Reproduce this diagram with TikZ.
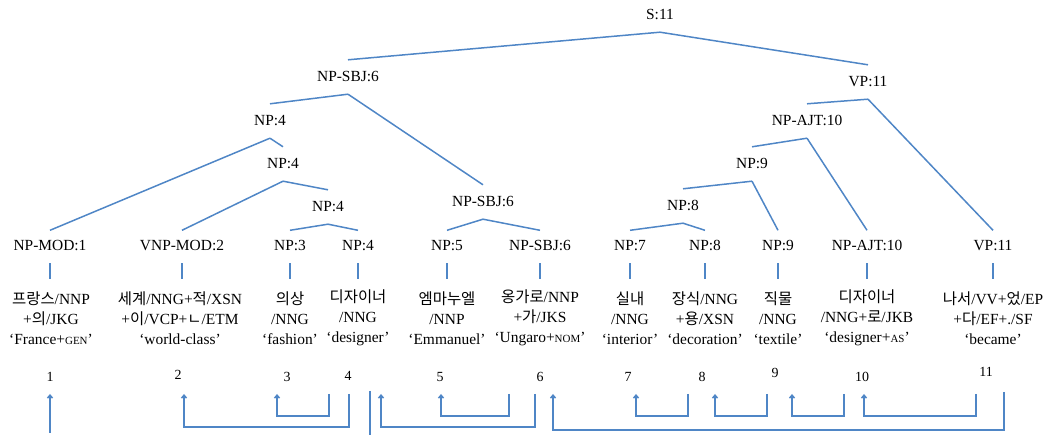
\documentclass[tikz,border=0pt]{standalone}
\usepackage{fontspec}
\setmainfont{Liberation Serif}
\newfontfamily\krfont{Noto Sans CJK KR}
\newcommand\kr[1]{{\krfont #1}}
\newcommand\fsc[1]{{\fontsize{11}{11}\selectfont #1}}
\usetikzlibrary{calc,arrows.meta}
\definecolor{lnblue}{RGB}{79,134,198}
\begin{document}
\begin{tikzpicture}[x=1bp,y=-1bp,
  lbl/.style={font=\fontsize{15.5}{18}\selectfont, inner sep=0pt, text height=11bp, text depth=3bp},
  leaftext/.style={font=\fontsize{15.5}{20}\selectfont, inner sep=0pt, align=center},
  num/.style={font=\fontsize{14}{16}\selectfont, inner sep=0pt},
  edge/.style={draw=lnblue, line width=1.5bp},
  dep/.style={draw=lnblue, line width=1.5bp},
  deparr/.style={dep, -{Straight Barb[length=3bp,width=5bp]}},
]
\useasboundingbox (0,0) rectangle (1051,435);

% tree labels
\node[lbl] (s)      at (660,16)  {S:11};
\node[lbl] (npsbj)  at (348,78)  {NP-SBJ:6};
\node[lbl] (vp)     at (868,83)  {VP:11};
\node[lbl] (np4a)   at (270,122) {NP:4};
\node[lbl] (ajt)    at (807,122) {NP-AJT:10};
\node[lbl] (np4b)   at (283,165) {NP:4};
\node[lbl] (np9)    at (752,165) {NP:9};
\node[lbl] (np4c)   at (328,208) {NP:4};
\node[lbl] (npsbjb) at (483,203) {NP-SBJ:6};
\node[lbl] (np8)    at (683,207) {NP:8};

% leaves
\node[lbl] (l1)  at (50,247)  {NP-MOD:1};
\node[lbl] (l2)  at (182,247) {VNP-MOD:2};
\node[lbl] (l3)  at (290,247) {NP:3};
\node[lbl] (l4)  at (358,247) {NP:4};
\node[lbl] (l5)  at (447,247) {NP:5};
\node[lbl] (l6)  at (540,247) {NP-SBJ:6};
\node[lbl] (l7)  at (630,247) {NP:7};
\node[lbl] (l8)  at (705,247) {NP:8};
\node[lbl] (l9)  at (778,247) {NP:9};
\node[lbl] (l10) at (867,247) {NP-AJT:10};
\node[lbl] (l11) at (993,247) {VP:11};

% leaf texts
\node[leaftext] (t1)  at (51,318)  {\kr{프랑스}/NNP\\+\kr{의}/JKG\\‘France+\fsc{GEN}’};
\node[leaftext] (t2)  at (180,318) {\kr{세계}/NNG+\kr{적}/XSN\\+\kr{이}/VCP+\kr{ㄴ}/ETM\\‘world-class’};
\node[leaftext] (t3)  at (290,318) {\kr{의상}\\/NNG\\‘fashion’};
\node[leaftext] (t4)  at (358,318) {\kr{디자이너}\\/NNG\\‘designer’};
\node[leaftext] (t5)  at (447,318) {\kr{엠마누엘}\\/NNP\\‘Emmanuel’};
\node[leaftext] (t6)  at (540,318) {\kr{옹가로}/NNP\\+\kr{가}/JKS\\‘Ungaro+\fsc{NOM}’};
\node[leaftext] (t7)  at (630,318) {\kr{실내}\\/NNG\\‘interior’};
\node[leaftext] (t8)  at (705,318) {\kr{장식}/NNG\\+\kr{용}/XSN\\‘decoration’};
\node[leaftext] (t9)  at (778,318) {\kr{직물}\\/NNG\\‘textile’};
\node[leaftext] (t10) at (867,318) {\kr{디자이너}\\/NNG+\kr{로}/JKB\\‘designer+\fsc{AS}’};
\node[leaftext] (t11) at (993,318) {\kr{나서}/VV+\kr{었}/EP\\+\kr{다}/EF+./SF\\‘became’};

% numbers
\node[num] (n1)  at (50,377)  {1};
\node[num] (n2)  at (178,375) {2};
\node[num] (n3)  at (287,377) {3};
\node[num] (n4)  at (348,376) {4};
\node[num] (n5)  at (440,377) {5};
\node[num] (n6)  at (540,377) {6};
\node[num] (n7)  at (628,377) {7};
\node[num] (n8)  at (702,377) {8};
\node[num] (n9)  at (775,373) {9};
\node[num] (n10) at (862,377) {10};
\node[num] (n11) at (986,372) {11};

% tree edges
\foreach \p/\c in {s/npsbj, s/vp, npsbj/np4a, npsbj/npsbjb, np4a/np4b,
                   np4b/np4c, vp/ajt, ajt/np9, np9/np8}
  \draw[edge] ($(\p.south)+(0,9)$) -- ($(\c.north)+(0,-11)$);
\foreach \p/\c in {np4a/l1, np4b/l2, np4c/l3, np4c/l4, npsbjb/l5, npsbjb/l6,
                   vp/l11, ajt/l10, np9/l9, np8/l7, np8/l8}
  \draw[edge] ($(\p.south)+(0,9)$) -- ($(\c.north)+(0,-9.5)$);

% ticks
\foreach \i in {1,...,11}
  \draw[edge] ($(l\i.south)+(0,9)$) -- ($(l\i.south)+(0,25)$);

% dependency rows
\coordinate (rt) at (0,394);
\coordinate (rb1) at (0,416);
\coordinate (rb2) at (0,427);
\coordinate (rb3) at (0,430);
\coordinate (bot) at (0,435);

\draw[deparr] ($(n1|-bot)+(0,-2)$) -- (n1|-rt);
\draw[deparr] ($(n4|-rt)+(1,0)$) |- ($(n2|-rb2)+(6,0)$) -- ($(n2|-rt)+(6,0)$);
\draw[deparr] ($(n4|-rt)+(-19,0)$) |- ($(n3|-rb1)+(-10,0)$) -- ($(n3|-rt)+(-10,0)$);
\draw[dep] ($(n4|-rt)+(22,-3)$) -- ($(n4|-bot)+(22,0)$);
\draw[deparr] ($(n6|-rt)+(-5,0)$) |- ($(n4|-rb2)+(33,0)$) -- ($(n4|-rt)+(33,0)$);
\draw[deparr] ($(n6|-rt)+(-31,0)$) |- ($(n5|-rb1)+(1,0)$) -- ($(n5|-rt)+(1,0)$);
\draw[deparr] ($(n11|-rt)+(18,-2)$) |- ($(n6|-rb3)+(13,0)$) -- ($(n6|-rt)+(13,0)$);
\draw[deparr] ($(n8|-rt)+(-14,0)$) |- ($(n7|-rb1)+(8,0)$) -- ($(n7|-rt)+(8,0)$);
\draw[deparr] ($(n9|-rt)+(-8,0)$) |- ($(n8|-rb1)+(13,0)$) -- ($(n8|-rt)+(13,0)$);
\draw[deparr] ($(n10|-rt)+(-18,0)$) |- ($(n9|-rb1)+(17,0)$) -- ($(n9|-rt)+(17,0)$);
\draw[deparr] ($(n11|-rt)+(-10,0)$) |- ($(n10|-rb1)+(2,0)$) -- ($(n10|-rt)+(2,0)$);
\end{tikzpicture}
\end{document}
